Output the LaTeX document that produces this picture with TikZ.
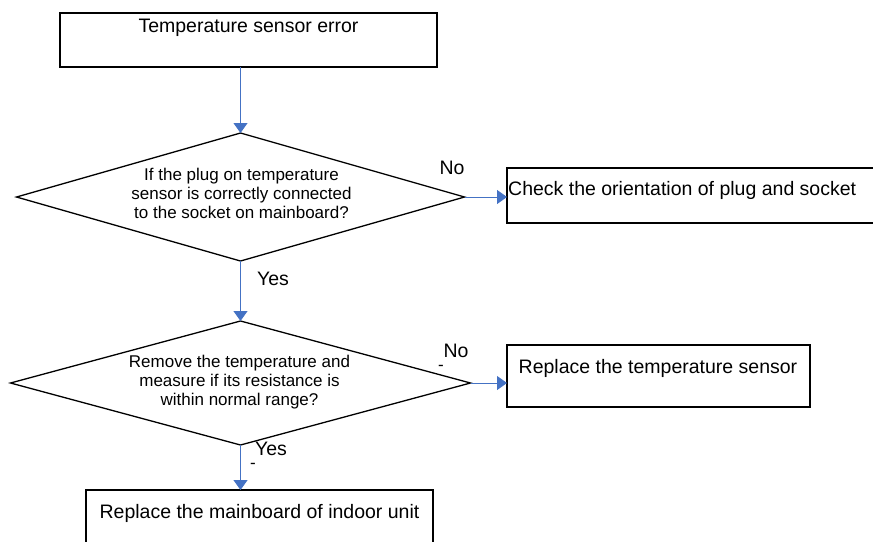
\documentclass[tikz,border=0pt]{standalone}
\usepackage{fontspec}
\setmainfont{Liberation Sans}
\usetikzlibrary{shapes.geometric,arrows.meta}
\definecolor{flowblue}{HTML}{4472C4}
\tikzset{
  box/.style={draw=black, line width=1.3pt, rectangle, inner sep=0pt, outer sep=0pt},
  decision/.style={draw=black, line width=1.3pt, diamond, inner sep=0pt, outer sep=0pt},
  bigtxt/.style={font=\fontsize{19.5}{22}\selectfont, inner sep=0pt, anchor=base},
  dtxt/.style={font=\fontsize{17}{18.6}\selectfont, inner sep=0pt, align=center, anchor=base},
  arr/.style={draw=flowblue, line width=0.9pt, -{Triangle[width=14pt,length=10pt]}}
}
\begin{document}
\begin{tikzpicture}[x=1pt,y=-1pt]
\useasboundingbox (0,0) rectangle (873,541);
\clip (0,0) rectangle (873,541);
% boxes
\node[box, minimum width=377pt, minimum height=54pt] (b1) at (248.5,40) {};
\node[bigtxt] (t1) at (248.5,32) {Temperature sensor error};
\node[box, minimum width=493pt, minimum height=55pt] (b2) at (753.5,195.5) {};
\node[bigtxt, anchor=base west] (t2) at (508,195) {Check the orientation of plug and socket};
\node[box, minimum width=303pt, minimum height=62pt] (b3) at (658.5,376) {};
\node[bigtxt] (t3) at (658,373) {Replace the temperature sensor};
\node[box, minimum width=347pt, minimum height=70pt] (b4) at (259.5,525) {};
\node[bigtxt] (t4) at (259.5,518) {Replace the mainboard of indoor unit};
% decisions
\node[decision, minimum width=448pt, minimum height=128pt] (d1) at (240.5,197) {};
\node[dtxt] (dt1) at (241.5,218) {If the plug on temperature\\sensor is correctly connected\\to the socket on mainboard?};
\node[decision, minimum width=460pt, minimum height=124pt] (d2) at (240.5,383) {};
\node[dtxt] (dt2) at (239.5,405) {Remove the temperature and\\measure if its resistance is\\within normal range?};
% connectors
\draw[arr] (d1.north |- b1.south) -- (d1.north);
\draw[arr] (d1.east) -- (d1.east -| b2.west);
\draw[arr] (d1.south) -- (d2.north);
\draw[arr] (d2.east) -- (d2.east -| b3.west);
\draw[arr] (d2.south) -- (d2.south |- b4.north);
% labels
\node[bigtxt] (no1) at (452,174) {No};
\node[bigtxt] (yes1) at (273,285) {Yes};
\node[bigtxt] (no2) at (456,357) {No};
\node[dtxt] (m1) at (441,370) {-};
\node[bigtxt] (yes2) at (271,455) {Yes};
\node[dtxt] (m2) at (253,468) {-};
\end{tikzpicture}
\end{document}
